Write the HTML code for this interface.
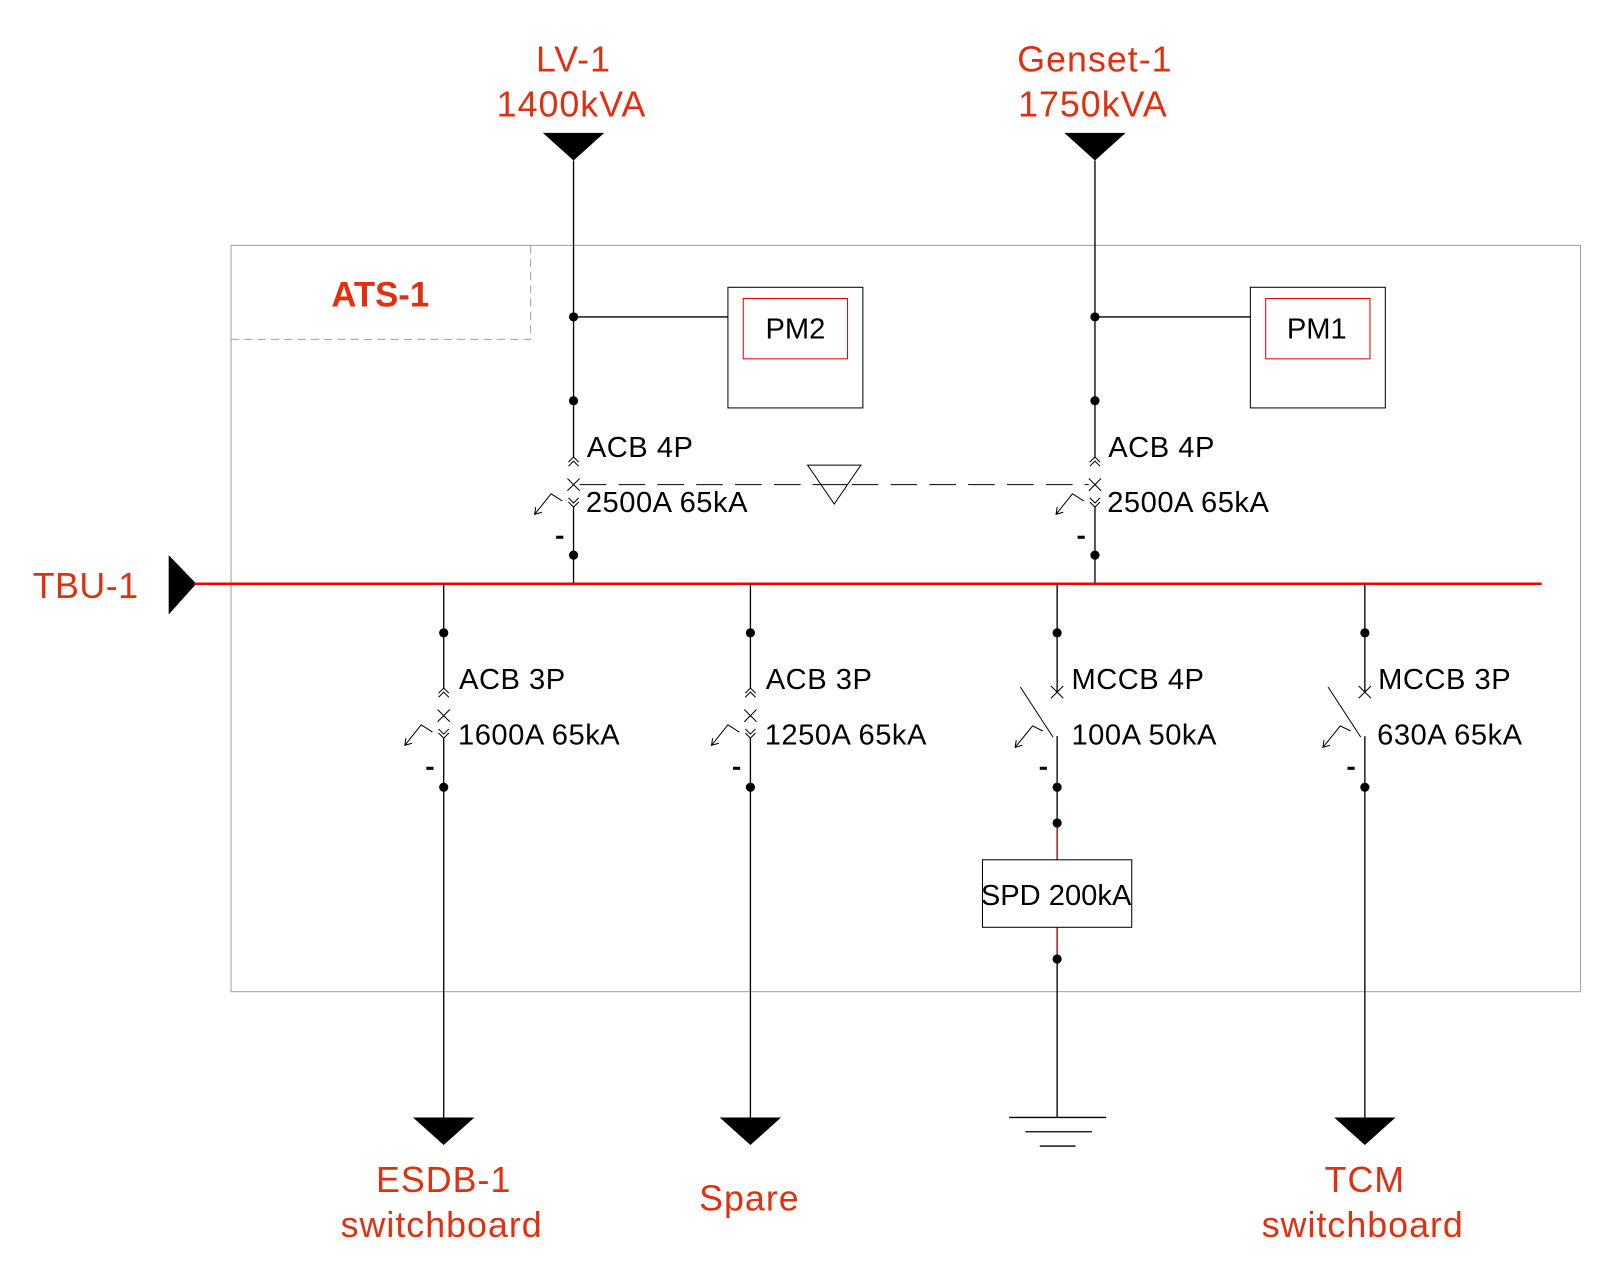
<!DOCTYPE html>
<html><head><meta charset="utf-8"><style>html,body{margin:0;padding:0;background:#fff}svg{display:block}</style></head>
<body>
<svg width="1600" height="1280" viewBox="0 0 1565 1252" xmlns="http://www.w3.org/2000/svg" font-family="Liberation Sans, Arial, sans-serif">
<defs>
<g id="acb">
  <polyline points="-5,-22 0,-27 5,-22" fill="none" stroke="#000" stroke-width="1"/>
  <polyline points="-5,-18 0,-23 5,-18" fill="none" stroke="#000" stroke-width="1"/>
  <line x1="-6" y1="-6" x2="6" y2="6" stroke="#000"/>
  <line x1="-6" y1="6" x2="6" y2="-6" stroke="#000"/>
  <polyline points="-5,13 0,18 5,13" fill="none" stroke="#000"/>
  <polyline points="-5,17 0,22 5,17" fill="none" stroke="#000"/>
  <polyline points="-11,16 -22,9 -38,29" fill="none" stroke="#000"/>
  <polyline points="-37,22 -38,29 -31,27" fill="none" stroke="#000"/>
  <rect x="-17" y="50" width="7" height="3" fill="#000"/>
</g>
<g id="mccb">
  <line x1="-6" y1="-6" x2="6" y2="6" stroke="#000"/>
  <line x1="-6" y1="6" x2="6" y2="-6" stroke="#000"/>
  <line x1="-36" y1="-5" x2="-4" y2="44" stroke="#000"/>
  <polyline points="-14,38 -24,33 -41,54" fill="none" stroke="#000"/>
  <polyline points="-40,47 -41,54 -34,52" fill="none" stroke="#000"/>
  <rect x="-17" y="73" width="7" height="3" fill="#000"/>
</g>
</defs>

<rect x="226" y="240" width="1320" height="730" fill="none" stroke="#a0a0a0" stroke-width="1"/>
<polyline points="226,332 519,332 519,240" fill="none" stroke="#a0a0a0" stroke-dasharray="8,5"/>
<text x="372" y="300" font-size="34" font-weight="bold" fill="#e03010" text-anchor="middle">ATS-1</text>

<g font-size="35" fill="#e03010" text-anchor="middle" letter-spacing="1">
<text x="561" y="70">LV-1</text>
<text x="559" y="114">1400kVA</text>
<text x="1071" y="70">Genset-1</text>
<text x="1069" y="114">1750kVA</text>
</g>
<polygon points="531,130 591,130 561,157" fill="#000"/>
<polygon points="1041,130 1101,130 1071,157" fill="#000"/>

<g stroke="#000" stroke-width="1.3">
<line x1="561" y1="157" x2="561" y2="448"/>
<line x1="561" y1="496" x2="561" y2="571"/>
<line x1="1071" y1="157" x2="1071" y2="448"/>
<line x1="1071" y1="496" x2="1071" y2="571"/>
<line x1="561" y1="310" x2="712" y2="310"/>
<line x1="1071" y1="310" x2="1223" y2="310"/>
</g>
<use href="#acb" x="561" y="474"/>
<use href="#acb" x="1071" y="474"/>
<g fill="#000">
<circle cx="561" cy="310" r="4.5"/><circle cx="561" cy="392" r="4.5"/><circle cx="561" cy="543" r="4.5"/>
<circle cx="1071" cy="310" r="4.5"/><circle cx="1071" cy="392" r="4.5"/><circle cx="1071" cy="543" r="4.5"/>
</g>
<g font-size="28.5" fill="#000" letter-spacing="0.5">
<text x="574" y="447">ACB 4P</text><text x="573" y="501">2500A 65kA</text>
<text x="1084" y="447">ACB 4P</text><text x="1083" y="501">2500A 65kA</text>
</g>
<line x1="567" y1="474" x2="1065" y2="474" stroke="#000" stroke-dasharray="26,12"/>
<polygon points="790,455 842,455 816,493" fill="#fff" stroke="#000"/>
<line x1="803" y1="474" x2="829" y2="474" stroke="#000"/>

<rect x="712" y="281" width="132" height="118" fill="#fff" stroke="#000"/>
<rect x="727" y="292" width="102" height="59" fill="none" stroke="#e00000"/>
<text x="778" y="331" font-size="28.5" text-anchor="middle">PM2</text>
<rect x="1223" y="281" width="132" height="118" fill="#fff" stroke="#000"/>
<rect x="1238" y="292" width="102" height="59" fill="none" stroke="#e00000"/>
<text x="1288" y="331" font-size="28.5" text-anchor="middle">PM1</text>

<text x="32" y="585" font-size="35" fill="#e03010" letter-spacing="0.5">TBU-1</text>
<polygon points="165,543 165,601 192,571" fill="#000"/>
<line x1="190" y1="571" x2="1508" y2="571" stroke="#f00000" stroke-width="2.5"/>

<g stroke="#000" stroke-width="1.3">
<line x1="434" y1="571" x2="434" y2="674"/><line x1="434" y1="722" x2="434" y2="1093"/>
<line x1="734" y1="571" x2="734" y2="674"/><line x1="734" y1="722" x2="734" y2="1093"/>
<line x1="1034" y1="571" x2="1034" y2="677"/><line x1="1034" y1="720" x2="1034" y2="805"/><line x1="1034" y1="938" x2="1034" y2="1093"/>
<line x1="1335" y1="571" x2="1335" y2="677"/><line x1="1335" y1="720" x2="1335" y2="1093"/>
</g>
<line x1="1034" y1="805" x2="1034" y2="938" stroke="#a00000" stroke-width="1.3"/>
<use href="#acb" x="434" y="700"/>
<use href="#acb" x="734" y="700"/>
<use href="#mccb" x="1034" y="677"/>
<use href="#mccb" x="1335" y="677"/>
<g fill="#000">
<circle cx="434" cy="619" r="4.5"/><circle cx="434" cy="770" r="4.5"/>
<circle cx="734" cy="619" r="4.5"/><circle cx="734" cy="770" r="4.5"/>
<circle cx="1034" cy="619" r="4.5"/><circle cx="1034" cy="770" r="4.5"/><circle cx="1034" cy="805" r="4.5"/><circle cx="1034" cy="938" r="4.5"/>
<circle cx="1335" cy="619" r="4.5"/><circle cx="1335" cy="770" r="4.5"/>
</g>
<g font-size="28.5" fill="#000" letter-spacing="0.5">
<text x="449" y="674">ACB 3P</text><text x="448" y="728">1600A 65kA</text>
<text x="749" y="674">ACB 3P</text><text x="748" y="728">1250A 65kA</text>
<text x="1048" y="674">MCCB 4P</text><text x="1048" y="728">100A 50kA</text>
<text x="1348" y="674">MCCB 3P</text><text x="1347" y="728">630A 65kA</text>
</g>

<rect x="961" y="841" width="146" height="66" fill="#fff" stroke="#000"/>
<text x="1033" y="885" font-size="28.5" text-anchor="middle">SPD 200kA</text>
<g stroke="#000" stroke-width="1.3">
<line x1="987" y1="1093" x2="1082" y2="1093"/>
<line x1="1003" y1="1107" x2="1068" y2="1107"/>
<line x1="1017" y1="1121" x2="1052" y2="1121"/>
</g>

<polygon points="404,1093 464,1093 434,1120" fill="#000"/>
<polygon points="704,1093 764,1093 734,1120" fill="#000"/>
<polygon points="1305,1093 1365,1093 1335,1120" fill="#000"/>
<g font-size="35" fill="#e03010" text-anchor="middle" letter-spacing="1">
<text x="434" y="1166">ESDB-1</text><text x="432" y="1210">switchboard</text>
<text x="733" y="1184">Spare</text>
<text x="1335" y="1166">TCM</text><text x="1333" y="1210">switchboard</text>
</g>
</svg>
</body></html>
